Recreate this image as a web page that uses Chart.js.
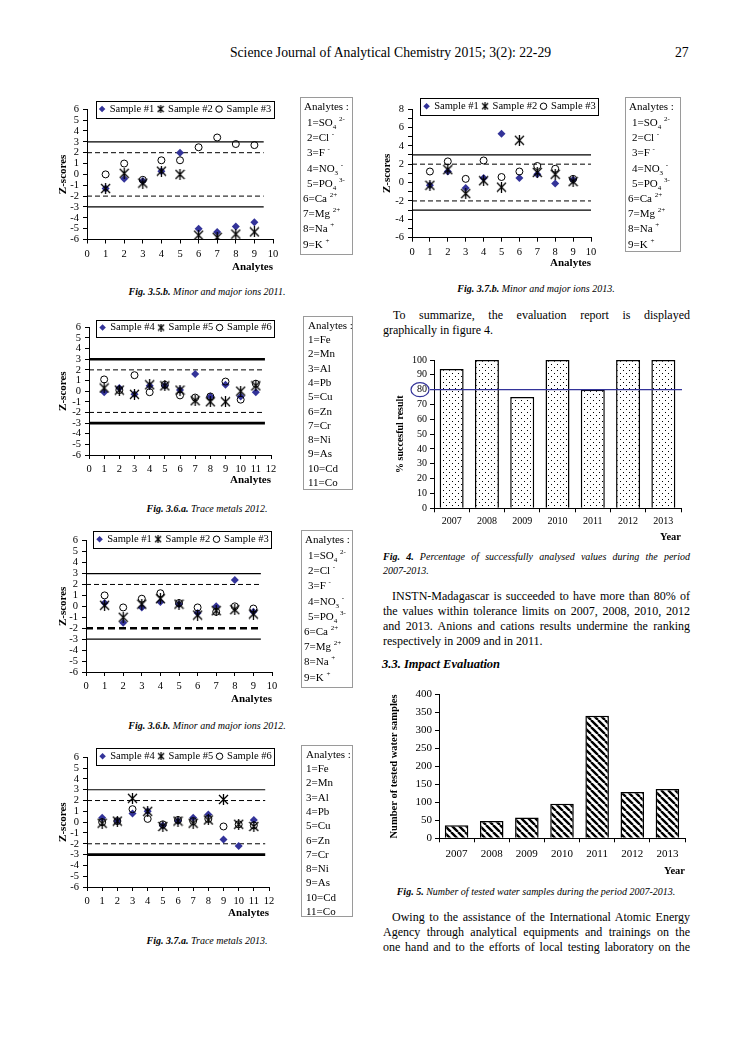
<!DOCTYPE html>
<html><head><meta charset="utf-8"><title>Proficiency test results 2007-2013</title>
<script src="https://cdn.jsdelivr.net/npm/chart.js@4.4.1/dist/chart.umd.min.js"></script>
<style>
html,body{margin:0;padding:0;background:#fff;overflow:hidden;}
#page{position:relative;width:744px;height:1053px;overflow:hidden;background:#fff;font-family:"Liberation Serif","Times New Roman",serif;color:#000;}
#page canvas{position:absolute;}
.t{position:absolute;line-height:15px;font-size:12px;}
.j{width:307px;text-align:justify;text-align-last:justify;}
.cap{position:absolute;font-size:10px;line-height:12px;font-style:italic;white-space:nowrap;}
.abox{position:absolute;border:1px solid #9a9a9a;font-size:11px;z-index:2;box-sizing:border-box;}
.abox span.l{position:absolute;white-space:nowrap;line-height:12px;}
.abox sub,.abox sup{font-size:7px;line-height:0;}
</style></head>
<body><div id="page">
<div class="t" style="left:0;width:781px;top:45px;text-align:center;font-size:13.7px;">Science Journal of Analytical Chemistry 2015; 3(2): 22-29</div>
<div class="t" style="left:675px;top:45px;font-size:13.7px;">27</div>

<div class="cap" style="left:207px;top:286px;transform:translateX(-50%)"><b>Fig. 3.5.b.</b> Minor and major ions 2011.</div>
<div class="cap" style="left:207px;top:503px;transform:translateX(-50%)"><b>Fig. 3.6.a.</b> Trace metals 2012.</div>
<div class="cap" style="left:207px;top:720px;transform:translateX(-50%)"><b>Fig. 3.6.b.</b> Minor and major ions 2012.</div>
<div class="cap" style="left:207px;top:935px;transform:translateX(-50%)"><b>Fig. 3.7.a.</b> Trace metals 2013.</div>
<div class="cap" style="left:536px;top:283px;transform:translateX(-50%)"><b>Fig. 3.7.b.</b> Minor and major ions 2013.</div>

<div class="t j" style="left:383px;top:308px;text-indent:10px;">To summarize, the evaluation report is displayed</div>
<div class="t" style="left:383px;top:323px;">graphically in figure 4.</div>

<div class="cap" style="left:383px;top:551px;width:307px;text-align:justify;text-align-last:justify;white-space:normal;"><b>Fig. 4.</b> Percentage of successfully analysed values during the period</div>
<div class="cap" style="left:383px;top:565px;">2007-2013.</div>

<div class="t j" style="left:383px;top:589px;text-indent:9px;">INSTN-Madagascar is succeeded to have more than 80% of</div>
<div class="t j" style="left:383px;top:604px;">the values within tolerance limits on 2007, 2008, 2010, 2012</div>
<div class="t j" style="left:383px;top:619px;">and 2013. Anions and cations results undermine the ranking</div>
<div class="t" style="left:383px;top:634px;">respectively in 2009 and in 2011.</div>
<div class="t" style="left:382px;top:657px;font-weight:bold;font-style:italic;font-size:12.5px;">3.3. Impact Evaluation</div>

<div class="cap" style="left:536px;top:886px;transform:translateX(-50%)"><b>Fig. 5.</b> Number of tested water samples during the period 2007-2013.</div>

<div class="t j" style="left:383px;top:910px;text-indent:9px;">Owing to the assistance of the International Atomic Energy</div>
<div class="t j" style="left:383px;top:925px;">Agency through analytical equipments and trainings on the</div>
<div class="t j" style="left:383px;top:940px;">one hand and to the efforts of local testing laboratory on the</div>
</div>
<script>
// ---------------- data ----------------
const ionAnalytes = [1, 2, 3, 4, 5, 6, 7, 8, 9];
const metalAnalytes = [1, 2, 3, 4, 5, 6, 7, 8, 9, 10, 11];
const ionLabels = [['SO','4','2-'],['Cl','','-'],['F','','-'],['NO','3','-'],['PO','4','3-'],['Ca','','2+'],['Mg','','2+'],['Na','','+'],['K','','+']];
const metalLabels = ['Fe','Mn','Al','Pb','Cu','Zn','Cr','Ni','As','Cd','Co'];
const samplesA = ['Sample #1', 'Sample #2', 'Sample #3'];
const samplesB = ['Sample #4', 'Sample #5', 'Sample #6'];
const zTicksStd = [-6, 6];
const zTicksWide = [-6, 8];
const limitLevels = [3, 2, -2, -3];

// Fig. 3.5.b  Minor and major ions 2011
const ions2011_s1 = [-1.3, -0.4, -0.6, 0.3, 2.0, -5.0, -5.3, -4.8, -4.4];
const ions2011_s2 = [-1.3, 0.1, -0.8, 0.3, 0.0, -5.6, -5.8, -5.5, -5.3];
const ions2011_s3 = [0.0, 1.0, -0.5, 1.3, 1.3, 2.5, 3.4, 2.8, 2.7];
// Fig. 3.6.a  Trace metals 2012
const metals2012_s4 = [-0.1, 0.3, -0.3, 0.5, 0.5, 0.1, 1.6, -0.5, 0.6, -0.5, -0.1];
const metals2012_s5 = [0.3, 0.1, -0.3, 0.6, 0.5, 0.1, -0.9, -1.0, -1.0, 0.0, 0.5];
const metals2012_s6 = [1.1, 0.1, 1.5, -0.1, 0.6, -0.4, -0.6, -0.5, 0.9, -0.8, 0.7];
// Fig. 3.6.b  Minor and major ions 2012
const ions2012_s1 = [0.3, -1.5, -0.1, 0.4, 0.2, -0.6, 0.0, 2.4, -0.5];
const ions2012_s2 = [0.1, -1.0, 0.2, 0.7, 0.2, -0.8, -0.4, -0.3, -0.7];
const ions2012_s3 = [1.0, -0.1, 0.7, 1.2, 0.3, -0.1, -0.5, 0.0, -0.2];
// Fig. 3.7.a  Trace metals 2013
const metals2013_s4 = [0.4, 0.1, 0.8, 1.0, -0.3, 0.1, 0.4, 0.7, -1.6, -2.2, 0.2];
const metals2013_s5 = [-0.1, 0.1, 2.2, 1.0, -0.4, 0.1, -0.1, 0.2, 2.1, -0.2, -0.4];
const metals2013_s6 = [0.0, 0.1, 1.2, 0.3, -0.2, 0.2, 0.1, 0.3, -0.4, -0.2, -0.3];
// Fig. 3.7.b  Minor and major ions 2013
const ions2013_s1 = [-0.3, 1.2, -0.6, 0.5, 5.3, 0.5, 0.9, -0.1, 0.3];
const ions2013_s2 = [-0.3, 1.4, -1.2, 0.2, -0.5, 4.6, 1.1, 0.9, 0.1];
const ions2013_s3 = [1.2, 2.3, 0.4, 2.4, 0.6, 1.2, 1.8, 1.5, 0.4];

// Fig. 4 and Fig. 5
const years = ['2007', '2008', '2009', '2010', '2011', '2012', '2013'];
const successPct = [94, 100, 75, 100, 80, 100, 100];
const targetPct = 80;
const testedSamples = [36, 48, 58, 96, 341, 129, 137];

// ---------------- styling / helpers ----------------
const page = document.getElementById('page');
const SERIF = "'Liberation Serif', 'Times New Roman', serif";
Chart.defaults.font.family = SERIF;
Chart.defaults.color = '#000';
const NAVY = '#333399';

function makeStar(size, lw) {
  const c = document.createElement('canvas'); c.width = size; c.height = size;
  const g = c.getContext('2d'); g.strokeStyle = '#000'; g.lineWidth = lw;
  const m = 1, e = size - 1, mid = size / 2;
  g.beginPath();
  g.moveTo(m, m); g.lineTo(e, e);
  g.moveTo(m, e); g.lineTo(e, m);
  g.moveTo(mid, 0); g.lineTo(mid, size);
  g.stroke();
  return c;
}
const STAR = makeStar(11, 1.3);
const STAR_SMALL = makeStar(8, 1.2);

function makeCanvas(left, top, w, h) {
  const cv = document.createElement('canvas');
  cv.width = w; cv.height = h;
  Object.assign(cv.style, {left: left + 'px', top: top + 'px', width: w + 'px', height: h + 'px'});
  page.appendChild(cv);
  return cv;
}
const pts = (xs, ys) => ys.map((v, i) => ({x: xs[i], y: v}));

// legend that overlaps the top of the plot area, framed like the original
function insetLegend(h) {
  return {
    id: 'insetLegend',
    beforeLayout(chart) {
      const lg = chart.legend;
      if (lg && !lg._inset) {
        const fit = lg.fit, draw = lg.draw;
        lg.fit = function () { fit.call(this); this.height = h; };
        lg.draw = function (area) {
          const b = this.bottom, hh = this.height;
          this.bottom = b + 20; this.height = hh + 20;
          draw.call(this, area);
          this.bottom = b; this.height = hh;
        };
        lg._inset = true;
      }
    },
    afterDraw(chart) {
      const hb = chart.legend && chart.legend.legendHitBoxes;
      if (!hb || !hb.length) return;
      const ctx = chart.ctx;
      const l = Math.min(...hb.map(b => b.left)) - 4;
      const r = Math.max(...hb.map(b => b.left + b.width)) + 3;
      const cy = hb[0].top + hb[0].height / 2;
      ctx.save(); ctx.strokeStyle = '#000'; ctx.lineWidth = 1;
      ctx.strokeRect(Math.round(l) + 0.5, Math.round(cy - 8) + 0.5, Math.round(r - l), 17);
      ctx.restore();
    }
  };
}

function zChart(c) {
  const cv = makeCanvas(c.left, c.top, c.w, c.h);
  const ds = [
    {label: c.names[0], data: pts(c.xs, c.series[0]), pointStyle: 'rectRot', pointRadius: 4, pointHoverRadius: 4,
     backgroundColor: NAVY, borderColor: NAVY, borderWidth: 0, order: 3},
    {label: c.names[1], data: pts(c.xs, c.series[1]), pointStyle: STAR, pointRadius: 5, pointHoverRadius: 5,
     backgroundColor: '#000', borderColor: '#000', borderWidth: 1, order: 2},
    {label: c.names[2], data: pts(c.xs, c.series[2]), pointStyle: 'circle', pointRadius: 3.5, pointHoverRadius: 3.5,
     backgroundColor: 'rgba(255,255,255,0)', borderColor: '#000', borderWidth: 1, order: 1}
  ];
  limitLevels.forEach((lv, i) => {
    const st = c.limitStyle[i];
    ds.push({label: '', data: [{x: 0, y: lv}, {x: c.limitEnd, y: lv}], showLine: true, pointRadius: 0,
      borderColor: '#000', borderWidth: st.w, borderDash: st.dash || [], order: 10});
  });
  new Chart(cv, {
    type: 'scatter',
    data: {datasets: ds},
    options: {
      responsive: false, animation: false, events: [],
      layout: {padding: 0},
      plugins: {
        legend: {display: true, position: 'top', align: 'center',
          labels: {usePointStyle: true, boxWidth: 4.6, boxHeight: 4.6, padding: 4, color: '#000',
            font: {size: 10.5}, filter: it => it.datasetIndex < 3,
            sort: (a, b) => a.datasetIndex - b.datasetIndex,
            generateLabels: ch => Chart.defaults.plugins.legend.labels.generateLabels(ch)
              .map(it => (it.pointStyle === STAR ? Object.assign(it, {pointStyle: STAR_SMALL}) : it))}},
        tooltip: {enabled: false}
      },
      scales: {
        x: {type: 'linear', min: 0, max: c.xmax,
          ticks: {stepSize: 1, autoSkip: false, maxRotation: 0, padding: 4, color: '#000', font: {size: 10.5}},
          grid: {drawOnChartArea: false, drawTicks: true, tickLength: 4, color: '#000'},
          border: {display: true, color: '#000', width: 1},
          title: {display: true, text: 'Analytes', align: 'end', padding: 0, color: '#000',
            font: {size: 11, weight: 'bold', lineHeight: 1.2}},
          afterFit: s => { s.height = c.hx; s.paddingRight = c.padR; }},
        y: {type: 'linear', min: c.yRange[0], max: c.yRange[1],
          ticks: {stepSize: 1, autoSkip: false, padding: 4, color: '#000', font: {size: 10.5},
            callback: v => (v % c.labelStep === 0 ? v : '')},
          grid: {drawOnChartArea: false, drawTicks: true, tickLength: 4, color: '#000'},
          border: {display: true, color: '#000', width: 1},
          title: {display: true, text: 'Z-scores', padding: 0, color: '#000',
            font: {size: 11, weight: 'bold', lineHeight: 1.2}},
          afterFit: s => { s.width = c.wy; }}
      }
    },
    plugins: [insetLegend(c.legendH)]
  });
}

function analyteBox(b, names, isIon) {
  const d = document.createElement('div'); d.className = 'abox';
  Object.assign(d.style, {left: b.x + 'px', top: b.y + 'px', width: b.w + 'px', height: b.h + 'px'});
  let html = `<span class="l" style="left:${b.hx}px;top:${b.first - 6}px">Analytes :</span>`;
  names.forEach((n, i) => {
    const cy = b.start + b.step * i;
    let lx, txt;
    if (isIon) {
      lx = i < 5 ? b.ix1 : b.ix2;
      txt = `${i + 1}=${n[0]}${n[1] ? '<sub>' + n[1] + '</sub>' : ''} <sup>${n[2]}</sup>`;
    } else { lx = b.ix1; txt = `${i + 1}=${n}`; }
    html += `<span class="l" style="left:${lx}px;top:${cy - 6}px">${txt}</span>`;
  });
  d.innerHTML = html; page.appendChild(d);
}

const thin = {w: 1.2}, dashed = {w: 1, dash: [5, 3]}, thick = {w: 2.6}, thickDash = {w: 2.4, dash: [7, 4]};

// Fig. 3.5.b
zChart({left: 57, top: 99, w: 257, h: 175, wy: 30, hx: 34.5, padR: 41, legendH: 9.5,
  xs: ionAnalytes, xmax: 10, yRange: zTicksStd, labelStep: 1, names: samplesA,
  series: [ions2011_s1, ions2011_s2, ions2011_s3], limitEnd: 9.5, limitStyle: [thin, dashed, dashed, thin]});
// Fig. 3.6.a
zChart({left: 57, top: 317, w: 258, h: 170, wy: 32, hx: 32, padR: 44, legendH: 9,
  xs: metalAnalytes, xmax: 12, yRange: zTicksStd, labelStep: 1, names: samplesB,
  series: [metals2012_s4, metals2012_s5, metals2012_s6], limitEnd: 11.6, limitStyle: [thick, dashed, dashed, thick]});
// Fig. 3.6.b
zChart({left: 57, top: 530, w: 252, h: 176, wy: 29, hx: 34, padR: 37, legendH: 10.7,
  xs: ionAnalytes, xmax: 10, yRange: zTicksStd, labelStep: 1, names: samplesA,
  series: [ions2012_s1, ions2012_s2, ions2012_s3], limitEnd: 9.4, limitStyle: [thin, dashed, thickDash, thin]});
// Fig. 3.7.a
zChart({left: 57, top: 747, w: 258, h: 173, wy: 30, hx: 33, padR: 46, legendH: 10.3,
  xs: metalAnalytes, xmax: 12, yRange: zTicksStd, labelStep: 1, names: samplesB,
  series: [metals2013_s4, metals2013_s5, metals2013_s6], limitEnd: 11.75, limitStyle: [thin, dashed, dashed, thick]});
// Fig. 3.7.b
zChart({left: 381, top: 97, w: 258, h: 173, wy: 31, hx: 32.3, padR: 48, legendH: 12,
  xs: ionAnalytes, xmax: 10, yRange: zTicksWide, labelStep: 2, names: samplesA,
  series: [ions2013_s1, ions2013_s2, ions2013_s3], limitEnd: 10, limitStyle: [thin, dashed, dashed, thin]});

// analyte legend boxes
analyteBox({x: 300, y: 97, w: 53, h: 158, hx: 3, first: 8, start: 24, step: 15.2, ix1: 6, ix2: 2}, ionLabels, true);
analyteBox({x: 303, y: 316, w: 50, h: 174, hx: 4, first: 8, start: 22, step: 14.3, ix1: 4}, metalLabels, false);
analyteBox({x: 301, y: 530, w: 52, h: 158, hx: 3, first: 8, start: 24, step: 15.2, ix1: 6, ix2: 2}, ionLabels, true);
analyteBox({x: 301, y: 745, w: 52, h: 172, hx: 4, first: 8, start: 22, step: 14.3, ix1: 4}, metalLabels, false);
analyteBox({x: 625, y: 97, w: 56, h: 155, hx: 3, first: 8, start: 24, step: 15.2, ix1: 6, ix2: 2}, ionLabels, true);

// patterns
function dotPattern() {
  const c = document.createElement('canvas'); c.width = 6; c.height = 6;
  const g = c.getContext('2d'); g.fillStyle = '#fff'; g.fillRect(0, 0, 6, 6);
  g.fillStyle = '#000'; g.fillRect(1, 1, 1, 1); g.fillRect(4, 4, 1, 1);
  return g.createPattern(c, 'repeat');
}
function stripePattern() {
  const p = 7;
  const c = document.createElement('canvas'); c.width = p; c.height = p;
  const g = c.getContext('2d'); g.fillStyle = '#fff'; g.fillRect(0, 0, p, p);
  g.strokeStyle = '#000'; g.lineWidth = 2.4; g.beginPath();
  for (const k of [-p, 0, p]) { g.moveTo(k, 0); g.lineTo(k + p, p); }
  g.stroke();
  return g.createPattern(c, 'repeat');
}

function barOptions(o) {
  return {
    responsive: false, animation: false, events: [],
    layout: {padding: {top: o.padTop, right: o.padRight, left: 0, bottom: 0}},
    plugins: {legend: {display: false}, tooltip: {enabled: false}},
    scales: {
      x: {ticks: {padding: o.xPad, color: '#000', font: {size: o.tick}, maxRotation: 0, autoSkip: false},
        grid: {drawOnChartArea: false, drawTicks: true, tickLength: 4, color: '#000', offset: true},
        border: {display: true, color: '#000', width: 1},
        title: {display: true, text: 'Year', align: 'end', padding: 0, color: '#000',
          font: {size: 10.5, weight: 'bold', lineHeight: 1.2}},
        afterFit: s => { s.height = o.hx; }},
      y: {min: 0, max: o.max, ticks: {stepSize: o.step, autoSkip: false, padding: 3, color: '#000', font: {size: o.tick}},
        grid: {drawOnChartArea: false, drawTicks: true, tickLength: 4, color: '#000'},
        border: {display: true, color: '#000', width: 1},
        title: {display: true, text: o.yTitle, padding: 0, color: '#000',
          font: {size: o.yTitleSize, weight: 'bold', lineHeight: 1.2}},
        afterFit: s => { s.width = o.wy; }}
    }
  };
}

const targetLine = {
  id: 'targetLine',
  afterDatasetsDraw(chart) {
    const ctx = chart.ctx, y = chart.scales.y.getPixelForValue(targetPct);
    const {left, right} = chart.chartArea;
    ctx.save(); ctx.strokeStyle = NAVY; ctx.lineWidth = 1.2;
    ctx.beginPath(); ctx.moveTo(left - 4, y); ctx.lineTo(right + 1, y); ctx.stroke();
    ctx.beginPath(); ctx.ellipse(left - 14, y, 9, 7, 0, 0, 2 * Math.PI); ctx.stroke();
    ctx.restore();
  }
};

// Fig. 4
new Chart(makeCanvas(394, 351, 296, 193), {
  type: 'bar',
  data: {labels: years, datasets: [{data: successPct, backgroundColor: dotPattern(), borderColor: '#000',
    borderWidth: 1.5, barPercentage: 0.68, categoryPercentage: 1}]},
  options: barOptions({padTop: 8, padRight: 9, hx: 35.7, wy: 40, max: 100, step: 10, tick: 10, xPad: 3,
    yTitle: '% succesful result', yTitleSize: 10}),
  plugins: [targetLine]
});

// Fig. 5
new Chart(makeCanvas(388, 685, 302, 193), {
  type: 'bar',
  data: {labels: years, datasets: [{data: testedSamples, backgroundColor: stripePattern(), borderColor: '#000',
    borderWidth: 1.5, barPercentage: 0.67, categoryPercentage: 1}]},
  options: barOptions({padTop: 7.7, padRight: 5, hx: 39.7, wy: 51, max: 400, step: 50, tick: 11, xPad: 5,
    yTitle: 'Number of tested water samples', yTitleSize: 10.5})
});
</script>
</body></html>
